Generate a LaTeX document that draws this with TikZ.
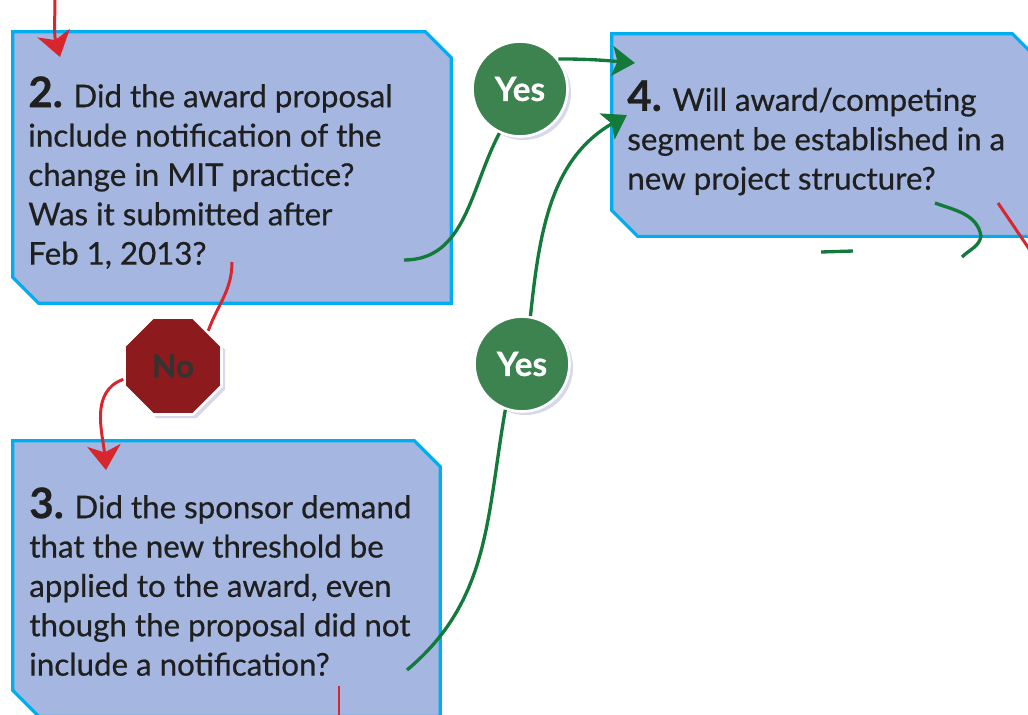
\documentclass[tikz,border=0pt]{standalone}
\usepackage{fontspec}
\setmainfont{Lato}[FakeBold=0.6]
\usetikzlibrary{calc,shapes.geometric,shadows,arrows.meta}

\definecolor{qfill}{RGB}{165,183,224}
\definecolor{qedge}{RGB}{0,174,239}
\definecolor{yesfill}{RGB}{60,131,80}
\definecolor{yesline}{RGB}{20,122,60}
\definecolor{nofill}{RGB}{141,27,30}
\definecolor{noline}{RGB}{216,38,46}
\definecolor{ringshade}{RGB}{216,216,236}
\newcommand{\qnum}[1]{{\fontsize{24}{24}\selectfont\bfseries #1}}

\begin{document}
\begin{tikzpicture}[x=0.02cm,y=0.02cm,yscale=-1,
    qarea/.style={rectangle, inner sep=0pt},
    qframe/.style={draw=qedge, fill=qfill, line width=1.8pt},
    qtext/.style={anchor=north west, inner sep=0pt, align=left, text=black!88,
      font=\fontsize{17.8}{22.4}\selectfont},
    yesdot/.style={circle, minimum size=1.9cm, inner sep=0pt, fill=yesfill, draw=white,
      line width=1.5pt, text=white, font=\fontsize{19}{19}\selectfont\bfseries,
      drop shadow={shadow xshift=2pt, shadow yshift=-2pt, fill=ringshade, opacity=1}},
    nostop/.style={regular polygon, regular polygon sides=8, minimum size=2.1cm, inner sep=0pt,
      fill=nofill, draw=white, line width=1.5pt, text=black!80,
      font=\fontsize{18}{18}\selectfont\bfseries,
      drop shadow={shadow xshift=2pt, shadow yshift=-2pt, fill=ringshade, opacity=1}},
    redline/.style={draw=noline, line width=1.7pt},
    redarrow/.style={redline, -{Stealth[length=14pt,width=19pt,inset=4pt]}},
    greenline/.style={draw=yesline, line width=1.9pt},
    greenarrow/.style={greenline, -{Stealth[length=13pt,width=17pt,inset=3pt]}},
  ]
\useasboundingbox (0,0) rectangle (1028,714);
\clip (0,0) rectangle (1028,714);

% question boxes, cut at top right and bottom left
\node[qarea, minimum width=8.76cm, minimum height=5.42cm] (box2) at (232,167.5) {};
\node[qarea, minimum width=8.54cm, minimum height=5.5cm] (box3) at (226.5,578.5) {};
\node[qarea, minimum width=8.52cm, minimum height=4.04cm] (box4) at (825,135) {};
\foreach \b in {box2,box3,box4}
  \draw[qframe] (\b.north west) -- ($(\b.north east)+(-26,0)$) -- ($(\b.north east)+(0,26)$)
    -- (\b.south east) -- ($(\b.south west)+(26,0)$) -- ($(\b.south west)+(0,-26)$) -- cycle;

\node[qtext] (q2) at (28,76) {\qnum{2.} Did the award proposal\\include notification of the\\change in MIT practice?\\Was it submitted after\\Feb 1, 2013?};
\node[qtext] (q3) at (29,487) {\qnum{3.} Did the sponsor demand\\that the new threshold be\\applied to the award, even\\though the proposal did not\\include a notification?};
\node[qtext] (q4) at (627,80) {\qnum{4.} Will award/competing\\segment be established in a\\new project structure?};

% answers
\node[yesdot] (yes1) at (520,89) {Yes};
\node[yesdot] (yes2) at (522,364) {Yes};
\node[nostop] (no) at (173,366) {No};

% loose ends
\coordinate (top2) at (55,-5);
\coordinate (tip2) at (60,57);
\coordinate (out2) at (232,262);
\coordinate (yes2out) at (404,260);
\coordinate (tip3) at (106,470);
\coordinate (out3) at (339,686);
\coordinate (end3) at (339,720);
\coordinate (yes3out) at (407,670);
\coordinate (tip4a) at (635,63);
\coordinate (tip4b) at (627,115);
\coordinate (hook1) at (935,203);
\coordinate (hook2) at (981,236);
\coordinate (hook3) at (962,257);
\coordinate (stub1) at (821,252);
\coordinate (stub2) at (853,251);
\coordinate (out4) at (998,203);
\coordinate (end4) at (1036,259);

% connectors
\draw[redarrow] (top2) to[out=90,in=-105] (tip2);
\draw[redline] (out2) to[out=90,in=-70] (no.north east);
\draw[redarrow] (no.195) to[out=160,in=-95] (tip3);
\draw[redline] (out3) -- (end3);
\draw[greenline] (yes2out) to[out=0,in=118] (yes1.245);
\draw[greenarrow] (yes1.38) to[out=0,in=185] (tip4a);
\draw[greenline] (yes3out) to[out=-40,in=100] (yes2.250);
\draw[greenarrow] (yes2.80) to[out=-84,in=150] (tip4b);
\draw[greenline] (hook1) to[out=20,in=-100] (hook2) to[out=100,in=-45] (hook3);
\draw[greenline] (stub1) -- (stub2);
\draw[redline] (out4) -- (end4);
\end{tikzpicture}
\end{document}
